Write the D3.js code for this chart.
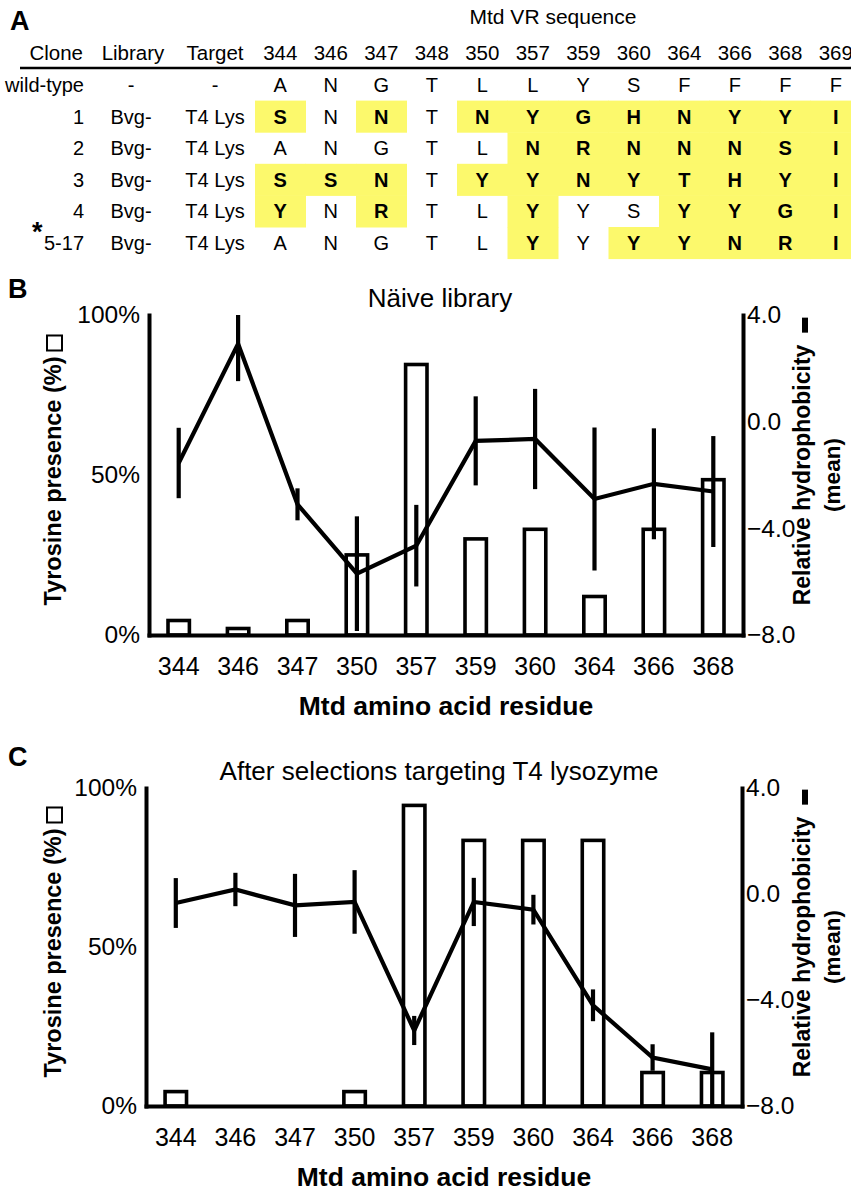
<!DOCTYPE html>
<html><head><meta charset="utf-8">
<script src="https://cdn.jsdelivr.net/npm/d3@7"></script>
<style>
body{margin:0;background:#fff}
svg{display:block}
text{font-family:"Liberation Sans",Arial,Helvetica,sans-serif;fill:#000}
</style>
</head><body>
<svg id="chart" width="851" height="1192"></svg>
<script>
// ---------- Panel A data ----------
const tableColumns = ["344","346","347","348","350","357","359","360","364","366","368","369"];
const cloneNames = ["wild-type","1","2","3","4","5-17"];
const cloneLibraries = ["-","Bvg-","Bvg-","Bvg-","Bvg-","Bvg-"];
const cloneTargets = ["-","T4 Lys","T4 Lys","T4 Lys","T4 Lys","T4 Lys"];
const cloneSequences = [
  "ANGTLLYSFFFF",
  "SNNTNYGHNYYI",
  "ANGTLNRNNNSI",
  "SSNTYYNYTHYI",
  "YNRTLYYSYYGI",
  "ANGTLYYYYNRI"
];

// ---------- Panels B & C data ----------
const residues = ["344","346","347","350","357","359","360","364","366","368"];
const naiveTyrosine = [5, 2.5, 5, 25.5, 85, 30.5, 33.5, 12.5, 33.5, 49];
const naiveHydro    = [-1.55, 2.92, -3.1, -5.7, -4.65, -0.72, -0.65, -2.9, -2.33, -2.62];
const naiveHydroErr = [1.32, 1.4, 0.6, 2.15, 1.53, 1.67, 1.88, 2.68, 2.08, 2.08];
const selTyrosine   = [5, 0, 0, 5, 95, 84, 84, 84, 11, 11];
const selHydro      = [-0.34, 0.17, -0.43, -0.3, -5.15, -0.3, -0.59, -4.2, -6.17, -6.62];
const selHydroErr   = [0.94, 0.63, 1.19, 1.2, 0.55, 0.91, 0.56, 0.6, 0.5, 1.4];
const leftTicks = [0, 50, 100];
const rightTicks = [4, 0, -4, -8];

const svg = d3.select("#chart");
svg.append("rect").attr("width",851).attr("height",1192).attr("fill","#fff");
const FONT = '"Liberation Sans",Arial,Helvetica,sans-serif';
const HL = "#FCF96C";

// ---------- Panel A ----------
const gA = svg.append("g");
gA.append("text").attr("x",10).attr("y",30).attr("font-size",27).attr("font-weight","bold").text("A");
const colX = d3.scaleBand().domain(tableColumns).range([255, 255 + 50.5*tableColumns.length]).padding(0);
const rowY = d3.scaleBand().domain(d3.range(cloneNames.length)).range([69, 69 + 31.6*cloneNames.length]).padding(0);
const wt = cloneSequences[0];

cloneSequences.forEach((seq, r) => {
  seq.split("").forEach((aa, c) => {
    if (r > 0 && aa !== wt[c]) {
      gA.append("rect")
        .attr("x", colX(tableColumns[c])).attr("y", rowY(r))
        .attr("width", colX.bandwidth()+0.5).attr("height", rowY.bandwidth()+0.5)
        .attr("fill", HL);
    }
  });
});
gA.append("text").attr("x",553).attr("y",24).attr("font-size",21).attr("text-anchor","middle").text("Mtd VR sequence");
const hdrY = 60;
gA.append("text").attr("x",83).attr("y",hdrY).attr("font-size",20.5).attr("text-anchor","end").text("Clone");
gA.append("text").attr("x",133).attr("y",hdrY).attr("font-size",20.5).attr("text-anchor","middle").text("Library");
gA.append("text").attr("x",215).attr("y",hdrY).attr("font-size",20.5).attr("text-anchor","middle").text("Target");
tableColumns.forEach(c => {
  gA.append("text").attr("x", colX(c)+colX.bandwidth()/2).attr("y",hdrY)
    .attr("font-size",20.5).attr("text-anchor","middle").text(c);
});
gA.append("line").attr("x1",20).attr("x2",851).attr("y1",68).attr("y2",68)
  .attr("stroke","#000").attr("stroke-width",2.6);

cloneNames.forEach((name, r) => {
  const cy = rowY(r) + rowY.bandwidth()/2;
  gA.append("text").attr("x",84).attr("y",cy).attr("dy","0.36em").attr("font-size",20)
    .attr("text-anchor","end").text(name);
  gA.append("text").attr("x",131).attr("y",cy).attr("dy","0.36em").attr("font-size",20)
    .attr("text-anchor","middle").text(cloneLibraries[r]);
  gA.append("text").attr("x",215).attr("y",cy).attr("dy","0.36em").attr("font-size",20)
    .attr("text-anchor","middle").text(cloneTargets[r]);
  cloneSequences[r].split("").forEach((aa, c) => {
    const mut = r > 0 && aa !== wt[c];
    gA.append("text").attr("x", colX(tableColumns[c])+colX.bandwidth()/2).attr("y",cy).attr("dy","0.36em")
      .attr("font-size",20).attr("font-weight", mut ? "bold" : "normal")
      .attr("text-anchor","middle").text(aa);
  });
});
gA.append("text").attr("x",32).attr("y",241).attr("font-size",27).attr("font-weight","bold").text("*");

// ---------- Panels B & C ----------
function drawPanel(cfg) {
  const g = svg.append("g");
  const {x0, x1, top, bottom} = cfg;
  const x = d3.scaleBand().domain(residues).range([x0, x1]).paddingInner(0.64).paddingOuter(0.32);
  const yL = d3.scaleLinear().domain([0, 100]).range([bottom, top]);
  const yR = d3.scaleLinear().domain([-8, 4]).range([bottom, top]);
  const cx = r => x(r) + x.bandwidth()/2;

  g.append("text").attr("x",8).attr("y",cfg.letterY).attr("font-size",27).attr("font-weight","bold").text(cfg.letter);
  g.append("text").attr("x",cfg.titleX).attr("y",top-8).attr("font-size",26).attr("text-anchor","middle").text(cfg.title);

  // bars
  g.selectAll("rect.bar").data(residues.map((r,i)=>({r, v: cfg.tyr[i]})).filter(d=>d.v>0))
    .join("rect").attr("class","bar")
    .attr("x", d=>x(d.r)).attr("width", x.bandwidth())
    .attr("y", d=>yL(d.v)+1.5).attr("height", d=>bottom - yL(d.v) - 1.5)
    .attr("fill","#fff").attr("stroke","#000").attr("stroke-width",3.6);

  // line + error bars
  const pts = residues.map((r,i)=>({r, h: cfg.hyd[i], e: cfg.err[i]}));
  g.append("path").datum(pts)
    .attr("d", d3.line().x(d=>cx(d.r)).y(d=>yR(d.h)))
    .attr("fill","none").attr("stroke","#000").attr("stroke-width",4.2).attr("stroke-linejoin","miter");
  g.selectAll("line.err").data(pts).join("line").attr("class","err")
    .attr("x1", d=>cx(d.r)).attr("x2", d=>cx(d.r))
    .attr("y1", d=>yR(Math.min(4, d.h + d.e))).attr("y2", d=>yR(Math.max(-8, d.h - d.e)))
    .attr("stroke","#000").attr("stroke-width",4.2);

  // axes
  const axL = g.append("g").attr("transform",`translate(${x0},0)`)
    .call(d3.axisLeft(yL).tickValues(leftTicks).tickFormat(d=>d+"%").tickSize(0).tickSizeOuter(0).tickPadding(9));
  const axR = g.append("g").attr("transform",`translate(${x1},0)`)
    .call(d3.axisRight(yR).tickValues(rightTicks).tickFormat(d3.format(".1f")).tickSize(0).tickSizeOuter(0).tickPadding(4));
  const axB = g.append("g").attr("transform",`translate(0,${bottom})`)
    .call(d3.axisBottom(x).tickSize(0).tickSizeOuter(0).tickPadding(22));
  [axL, axR, axB].forEach(a => {
    a.select(".domain").attr("stroke","#000").attr("stroke-width",4).attr("stroke-linecap","square");
    a.selectAll("text").attr("font-family",FONT).attr("fill","#000");
  });
  axL.selectAll("text").attr("font-size",24.5);
  axR.selectAll("text").attr("font-size",24.5);
  axB.selectAll("text").attr("font-size",25);

  // x title
  g.append("text").attr("x",(x0+x1)/2).attr("y",bottom+80).attr("font-size",26.5).attr("font-weight","bold")
    .attr("text-anchor","middle").text("Mtd amino acid residue");

  // left y title with open square
  const mid = (top + bottom)/2;
  const gl = g.append("g").attr("transform",`translate(61,${mid+6}) rotate(-90)`);
  const lt = gl.append("text").attr("font-size",23.5).attr("font-weight","bold").attr("text-anchor","middle")
    .text("Tyrosine presence (%)");
  const lw = lt.node().getComputedTextLength();
  gl.append("rect").attr("x", lw/2 + 6).attr("y", -14).attr("width",15).attr("height",15)
    .attr("fill","none").attr("stroke","#000").attr("stroke-width",2);

  // right y title with line dash
  const gr = g.append("g").attr("transform",`translate(810,${mid}) rotate(-90)`);
  const rt = gr.append("text").attr("font-size",23).attr("font-weight","bold").attr("text-anchor","middle")
    .text("Relative hydrophobicity");
  const rw = rt.node().getComputedTextLength();
  gr.append("rect").attr("x", rw/2 + 12).attr("y", -8).attr("width",15).attr("height",6).attr("fill","#000");
  g.append("g").attr("transform",`translate(840,${mid}) rotate(-90)`)
    .append("text").attr("font-size",22.5).attr("font-weight","bold").attr("text-anchor","middle").text("(mean)");
}

drawPanel({letter:"B", letterY:298, title:"Näive library", titleX:440,
  x0:149, x1:743, top:315, bottom:635,
  tyr: naiveTyrosine, hyd: naiveHydro, err: naiveHydroErr});
drawPanel({letter:"C", letterY:766, title:"After selections targeting T4 lysozyme", titleX:439,
  x0:146, x1:742, top:788, bottom:1106,
  tyr: selTyrosine, hyd: selHydro, err: selHydroErr});
</script>
</body></html>
